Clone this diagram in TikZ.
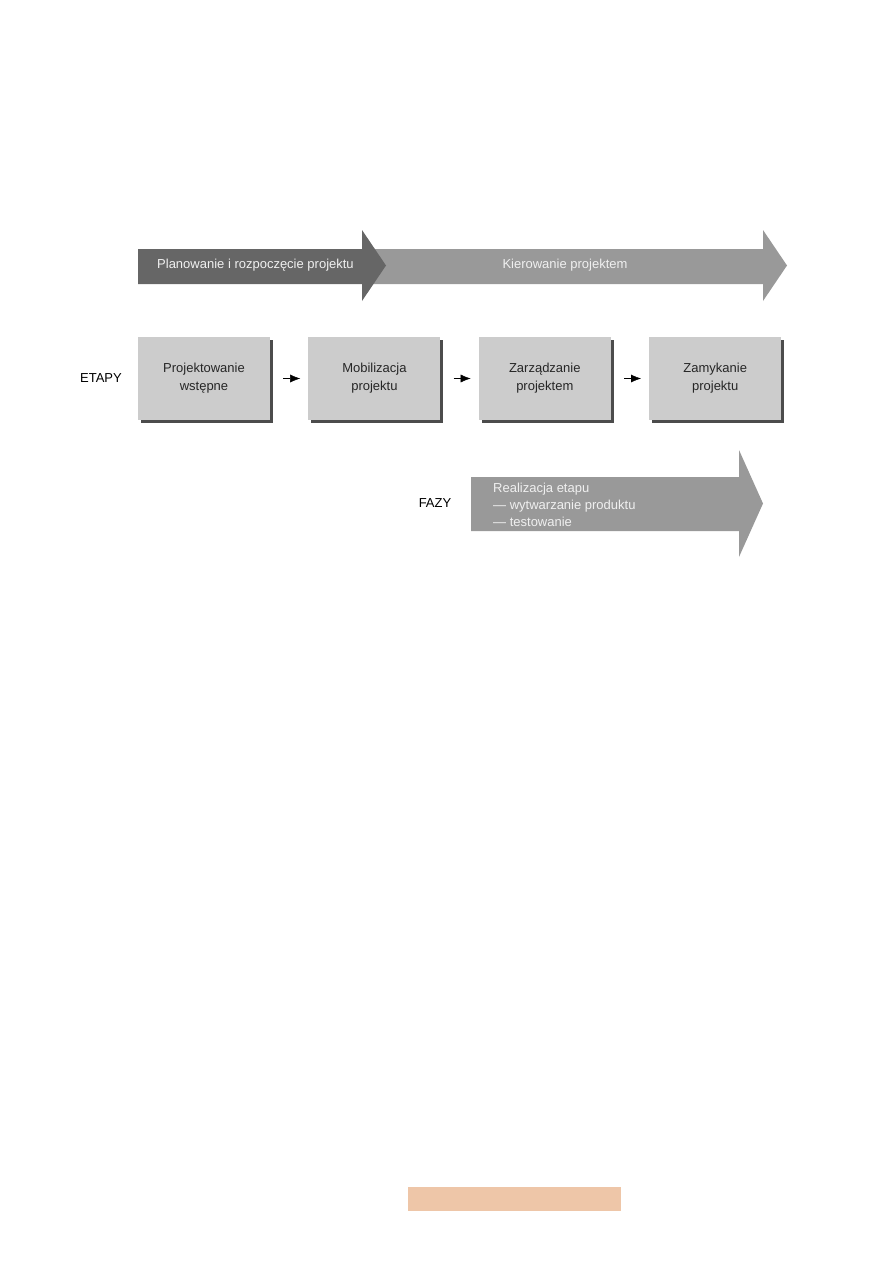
\documentclass[tikz,border=0pt]{standalone}
\usepackage{fontspec}
\setmainfont{Liberation Sans}
\usepackage{xcolor}
\usetikzlibrary{arrows.meta,positioning,shadows}

\definecolor{phasedark}{HTML}{666666}
\definecolor{phaselight}{HTML}{999999}
\definecolor{stagefill}{HTML}{CCCCCC}
\definecolor{barorange}{RGB}{238,198,168}

\begin{document}
\begin{tikzpicture}[x=1pt,y=-1pt,>=Latex,
  stage/.style={fill=stagefill,minimum width=132pt,minimum height=83pt,align=center,
    inner sep=0pt,font=\fontsize{13}{18}\selectfont,text=black!85,
    drop shadow={shadow xshift=3pt,shadow yshift=-3pt,fill=black!70,opacity=1}},
  onarrow/.style={text=white!94!black,font=\fontsize{13}{17}\selectfont,inner sep=0pt},
  side/.style={font=\fontsize{13}{15}\selectfont,inner sep=0pt},
  flow/.style={->,thin,shorten <=13pt,shorten >=8pt,>={Latex[length=10pt,width=8pt]}}]
  \useasboundingbox (0,0) rectangle (893,1263);
  % top band: two phases
  \fill[phaselight] (362,249) -- (763,249) -- (763,230) -- (787,265.5) -- (763,301) -- (763,284) -- (362,284) -- cycle;
  \fill[phasedark] (138,249) -- (362,249) -- (362,230) -- (386,265.5) -- (362,301) -- (362,284) -- (138,284) -- cycle;
  \node[onarrow,anchor=west] (plan) at (157,265.5) {Planowanie i rozpoczęcie projektu};
  \node[onarrow] (lead) at (565,265.5) {Kierowanie projektem};
  % stages
  \node[side] (etapy) at (101,378.5) {ETAPY};
  \node[stage] (s1) at (204,378.5) {Projektowanie\\wstępne};
  \node[stage,right=38pt of s1] (s2) {Mobilizacja\\projektu};
  \node[stage,right=38pt of s2] (s3) {Zarządzanie\\projektem};
  \node[stage,right=38pt of s3] (s4) {Zamykanie\\projektu};
  \draw[flow] (s1) -- (s2);
  \draw[flow] (s2) -- (s3);
  \draw[flow] (s3) -- (s4);
  % phases
  \node[side] (fazy) at (435,503.5) {FAZY};
  \fill[phaselight] (471,477) -- (739,477) -- (739,450) -- (763,503.5) -- (739,557) -- (739,531) -- (471,531) -- cycle;
  \node[onarrow,anchor=west,align=left] (real) at (493,504.5) {Realizacja etapu\\— wytwarzanie produktu\\— testowanie};
  % bar at the foot of the page
  \fill[barorange] (408,1187) rectangle (621,1211);
\end{tikzpicture}
\end{document}
